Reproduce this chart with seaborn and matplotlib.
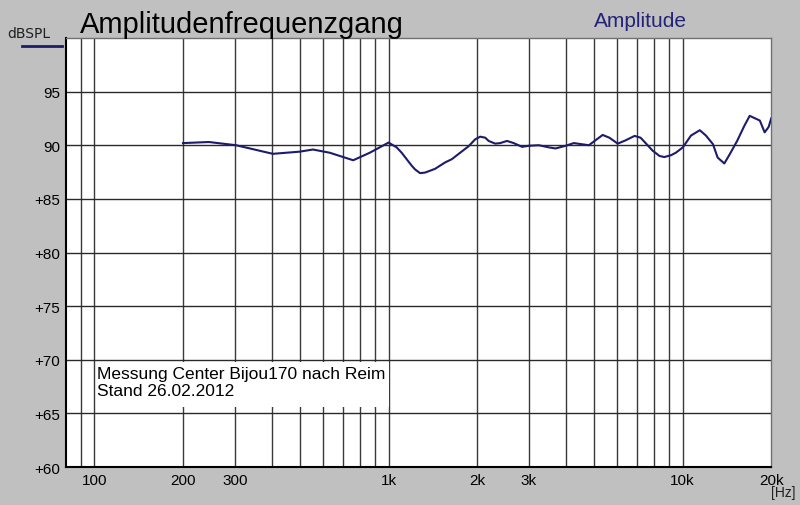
import numpy as np
import pandas as pd
import seaborn as sns
from matplotlib import pyplot as plt
from matplotlib.patches import Rectangle

plt.rcParams["font.family"] = ["Liberation Sans", "DejaVu Sans"]

# frequency response
freq_hz = [200, 245, 303, 404, 498, 553, 631, 758, 863, 1000, 1065, 1108, 1152, 1198,
           1230, 1279, 1330, 1439, 1557, 1641, 1751, 1870, 1970, 2049, 2133, 2189,
           2305, 2397, 2527, 2663, 2845, 2998, 3242, 3509, 3694, 4000, 4265, 4798,
           5345, 5635, 6014, 6388, 6863, 7194, 7511, 7900, 8341, 8661, 9131, 9476,
           10013, 10670, 11435, 12000, 12676, 13150, 13854, 14450, 15317, 16200,
           16900, 18300, 19000, 19600, 20000]
level_db = [90.2, 90.3, 90.0, 89.2, 89.4, 89.6, 89.3, 88.6, 89.3, 90.25, 89.8, 89.3,
            88.7, 88.1, 87.75, 87.4, 87.45, 87.8, 88.4, 88.7, 89.3, 89.9, 90.55, 90.8,
            90.7, 90.4, 90.15, 90.2, 90.4, 90.2, 89.85, 89.95, 90.0, 89.8, 89.7, 89.95,
            90.2, 90.0, 90.96, 90.7, 90.15, 90.45, 90.87, 90.7, 90.15, 89.5, 89.0, 88.9,
            89.07, 89.3, 89.8, 90.9, 91.4, 90.9, 90.1, 88.85, 88.3, 89.15, 90.4, 91.8,
            92.74, 92.3, 91.2, 91.7, 92.5]

xtick_vals = [100, 200, 300, 1000, 2000, 3000, 10000, 20000]
xtick_labels = ["100", "200", "300", "1k", "2k", "3k", "10k", "20k"]
ytick_vals = [60, 65, 70, 75, 80, 85, 90, 95]
ytick_labels = ["+60", "+65", "+70", "+75", "+80", "+85", "90", "95"]
grid_freqs = [90, 100, 200, 300, 400, 500, 600, 700, 800, 900, 1000,
              2000, 3000, 4000, 5000, 6000, 7000, 8000, 9000, 10000]

df = pd.DataFrame({"f": freq_hz, "db": level_db})

bg = "#c0c0c0"
fig = plt.figure(figsize=(8, 5.06), dpi=100, facecolor=bg)
ax = fig.add_axes([0.0825, 0.075, 0.8815, 0.848])
ax.set_facecolor("white")

ax.set_xscale("log")
ax.set_xlim(80, 20000)
ax.set_ylim(60, 100)

for f in grid_freqs:
    ax.axvline(f, color="#3a3a3a", lw=1, zorder=1)
for y in ytick_vals[1:]:
    ax.axhline(y, color="#2a2a2a", lw=1, zorder=1)

# white box behind the note
ax.add_patch(Rectangle((101, 65.6), 900, 4.2, facecolor="white", edgecolor="none", zorder=2))
ax.text(102, 69.4, "Messung Center Bijou170 nach Reim\nStand 26.02.2012",
        fontsize=12.5, va="top", ha="left", linespacing=1.15, zorder=3)

sns.lineplot(data=df, x="f", y="db", ax=ax, color="#1c1c6a", lw=1.5, zorder=4)

ax.set_xticks(xtick_vals)
ax.set_xticklabels(xtick_labels, fontsize=11)
ax.xaxis.set_minor_locator(plt.NullLocator())
ax.set_yticks(ytick_vals)
ax.set_yticklabels(ytick_labels, fontsize=11)
ax.tick_params(length=0, pad=4)
ax.set_xlabel("")
ax.set_ylabel("")

for s in ["left", "bottom"]:
    ax.spines[s].set_color("black")
    ax.spines[s].set_linewidth(1.5)
for s in ["top", "right"]:
    ax.spines[s].set_color("#707070")
    ax.spines[s].set_linewidth(1)

fig.text(0.1, 0.934, "Amplitudenfrequenzgang", fontsize=21, ha="left", va="baseline")
fig.text(0.742, 0.947, "Amplitude", fontsize=15, color="#23237a", ha="left", va="baseline")
fig.text(0.009, 0.925, "dBSPL", fontsize=10, ha="left", va="baseline", color="#202020",
         family="DejaVu Sans")
fig.add_artist(plt.Line2D([0.028, 0.078], [0.907, 0.907], color="#1c1c6a", lw=2))
fig.text(0.995, 0.017, "[Hz]", fontsize=10, ha="right", va="baseline", color="#202020")

plt.savefig("out.png", dpi=100, facecolor=bg)
